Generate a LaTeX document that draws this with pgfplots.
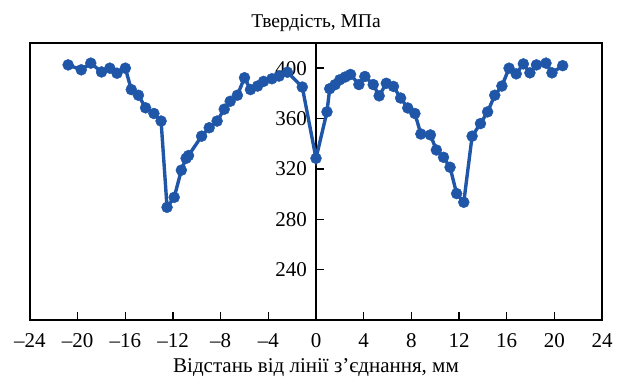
\documentclass[border=0pt]{standalone}
\usepackage{fontspec}
\setmainfont{Liberation Serif}
\usepackage{pgfplots}
\pgfplotsset{compat=1.18}
\definecolor{lineblue}{RGB}{31,86,168}
\begin{document}
\fontsize{21}{24}\selectfont
\begin{tikzpicture}
\begin{axis}[
  scale only axis, width=572pt, height=277pt,
  xmin=-24, xmax=24, ymin=200, ymax=420,
  axis x line=bottom, axis y line=center,
  x axis line style={-, line width=1.7pt},
  y axis line style={-, line width=1.7pt},
  xtick={-24,-20,...,24},
  xticklabels={–24,–20,–16,–12,–8,–4,0,4,8,12,16,20,24},
  ytick={240,280,320,360,400},
  xtick align=inside, ytick align=inside,
  major tick length=8pt,
  tick style={black, line width=1.4pt},
  /pgf/number format/assume math mode=true,
  tick label style={font=\fontsize{21}{24}\selectfont},
  xticklabel style={anchor=base, yshift=-28pt},
  yticklabel style={anchor=east, xshift=-2pt},
  clip=false,
  after end axis/.code={
    \draw[line width=1.7pt] (rel axis cs:0,0) rectangle (rel axis cs:1,1);
    \node[anchor=base, font=\fontsize{19.5}{22}\selectfont] at (rel axis cs:0.5,1) [yshift=15pt] {Твердість, МПа};
    \node[anchor=base, font=\fontsize{21}{24}\selectfont] at (rel axis cs:0.5,0) [yshift=-53pt] {Відстань від лінії з’єднання, мм};
  },
]
\addplot[color=lineblue, line width=3.4pt, mark=*, mark size=5.5pt, mark options={solid, fill=lineblue, draw=lineblue, line width=0.4pt}] coordinates {
(-20.8,402.6) (-19.7,398.7) (-18.9,404) (-18.0,397) (-17.3,400) (-16.7,396) (-16.0,400)
(-15.5,383) (-14.9,378.5) (-14.3,368.5) (-13.6,364) (-13.0,358)
(-12.5,289.5) (-11.9,297.4) (-11.3,319) (-10.9,328.4) (-10.7,330.6)
(-9.6,346) (-8.96,352.7) (-8.3,358) (-7.7,367.4) (-7.2,373.7) (-6.6,378.5)
(-6.0,392.4) (-5.5,383) (-4.9,385.8) (-4.4,389.5) (-3.7,391.6) (-3.1,393.7) (-2.4,396.8)
(-1.15,385) (0,328.4)
(0.92,365.3) (1.15,383.7) (1.6,386.9) (2.0,390.8) (2.45,393) (2.9,395)
(3.6,387) (4.1,393.4) (4.8,387) (5.3,378) (5.9,388) (6.5,385.5)
(7.1,376.3) (7.7,368.4) (8.3,364) (8.8,347.7) (9.6,347) (10.1,335) (10.7,329.2)
(11.25,321.3) (11.8,300.4) (12.4,293.5) (13.1,346) (13.8,356) (14.4,365.3)
(15.0,378.5) (15.6,385.8) (16.2,400) (16.8,395.5) (17.4,403.4) (17.95,396.3)
(18.5,402.6) (19.3,404) (19.8,396.3) (20.7,402)
};
\end{axis}
\pgfresetboundingbox
\path[use as bounding box] (-30pt,-59pt) rectangle (590pt,320pt);
\end{tikzpicture}
\end{document}
